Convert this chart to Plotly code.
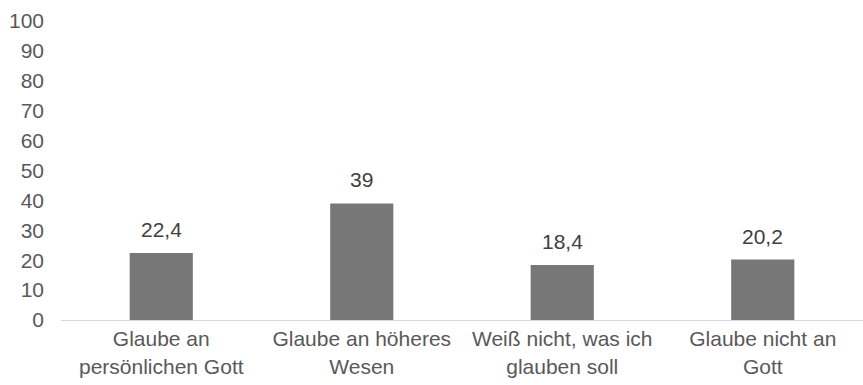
import plotly.graph_objects as go

categories = ["Glaube an<br>persönlichen Gott", "Glaube an höheres<br>Wesen",
              "Weiß nicht, was ich<br>glauben soll", "Glaube nicht an<br>Gott"]
values = [22.4, 39, 18.4, 20.2]
value_labels = ["22,4", "39", "18,4", "20,2"]
y_ticks = list(range(0, 101, 10))

FONT = "Liberation Sans, Arial, sans-serif"
TXT = "#595959"

fig = go.Figure()
fig.add_trace(go.Bar(
    x=categories, y=values,
    marker=dict(color="#777777", line=dict(width=0)),
    hoverinfo="skip",
))

for c, v, t in zip(categories, values, value_labels):
    fig.add_annotation(x=c, y=v, text=t, showarrow=False, yanchor="bottom",
                       yshift=10, font=dict(family=FONT, size=21, color="#404040"))

fig.update_layout(
    width=863, height=385,
    margin=dict(l=61, r=0, t=21, b=65),
    paper_bgcolor="white", plot_bgcolor="white",
    bargap=0.685,
    showlegend=False,
    font=dict(family=FONT, size=21, color=TXT),
)
fig.update_yaxes(range=[0, 100], tickvals=y_ticks, showgrid=False, zeroline=False,
                 showline=False, ticks="", ticklabelstandoff=16,
                 tickfont=dict(family=FONT, size=21, color=TXT))
fig.update_xaxes(showgrid=False, showline=True, linecolor="#d9d9d9", linewidth=1,
                 ticks="", tickfont=dict(family=FONT, size=21, color=TXT))

fig.write_html("out.html")
